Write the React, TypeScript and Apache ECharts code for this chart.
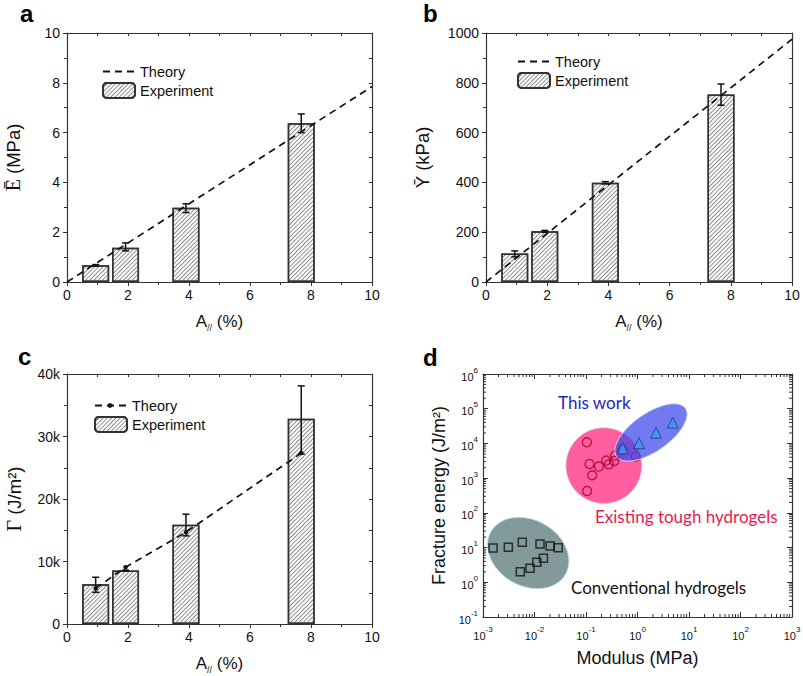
import React, { useEffect, useRef } from "react";
import * as echarts from "echarts";

const SANS = "'Liberation Sans', Arial, Helvetica, sans-serif";
const SERIF = "'Liberation Serif', 'Times New Roman', serif";
const HUMANIST = "Lato, 'Open Sans', sans-serif";
const INK = "#111";

// ---- shared x (A// %) ----
const areaPercent = [0.94, 1.92, 3.9, 7.68];
const xTickLabels = ["0", "2", "4", "6", "8", "10"];

// ---- panel a ----
const modE = [0.67, 1.38, 2.98, 6.38];
const modELow = [0.64, 1.25, 2.79, 6.0];
const modEHigh = [0.7, 1.57, 3.14, 6.75];
const theoryEX = [0, 10];
const theoryEY = [0, 7.85];
const aTickLabels = ["0", "2", "4", "6", "8", "10"];

// ---- panel b ----
const strY = [114, 204, 399, 753];
const strYLow = [101, 200, 394, 710];
const strYHigh = [125, 207, 403, 795];
const theoryYX = [0, 10];
const theoryYY = [0, 975];
const bTickLabels = ["0", "200", "400", "600", "800", "1000"];

// ---- panel c ----
const gamma = [6360, 8550, 15870, 32850];
const gammaLow = [5070, 8480, 14100, 27200];
const gammaHigh = [7480, 8620, 17570, 38100];
const theoryG = [5700, 9080, 14700, 27350];
const cTickLabels = ["0", "10k", "20k", "30k", "40k"];

// ---- panel d ----
const convMod = [0.00157, 0.0031, 0.0058, 0.0128, 0.0201, 0.0288, 0.0053, 0.0082, 0.0111, 0.0149];
const convEnergy = [9.7, 10.2, 14.2, 12.7, 11.1, 9.96, 2.02, 2.52, 3.76, 4.9];
const toughMod = [0.104, 0.105, 0.117, 0.132, 0.178, 0.247, 0.279, 0.354, 0.37, 0.516, 0.923];
const toughEnergy = [10800, 428, 2570, 1210, 2150, 3200, 2506, 3130, 4460, 6800, 4170];
const workMod = [0.516, 1.07, 2.29, 4.82];
const workEnergy = [7270, 10140, 20500, 39800];
const convCenter = [0.00755, 6.98];
const toughCenter = [0.222, 2290];
const workCenter = [1.83, 20700];
const dXExponents = [-3, -2, -1, 0, 1, 2, 3];
const dYExponents = [-1, 0, 1, 2, 3, 4, 5, 6];
const minorMultipliers = [2, 3, 4, 5, 6, 7, 8, 9];

const HATCH = {
  symbol: "rect",
  symbolSize: 1,
  symbolKeepAspect: false,
  color: "#8c8c8c",
  backgroundColor: "#ffffff",
  dashArrayX: [1, 0],
  dashArrayY: [0.9, 1.8],
  rotation: -Math.PI / 4,
};

const axisLine = { show: true, onZero: false, lineStyle: { color: "#333", width: 1.2 } };

function errorBars(params: any, api: any) {
  const x = api.value(0);
  const lo = api.coord([x, api.value(1)]);
  const hi = api.coord([x, api.value(2)]);
  const w = 3.5;
  const st = { stroke: INK, lineWidth: 1.5 };
  return {
    type: "group",
    children: [
      { type: "line", shape: { x1: lo[0], y1: lo[1], x2: hi[0], y2: hi[1] }, style: st },
      { type: "line", shape: { x1: lo[0] - w, y1: lo[1], x2: lo[0] + w, y2: lo[1] }, style: st },
      { type: "line", shape: { x1: hi[0] - w, y1: hi[1], x2: hi[0] + w, y2: hi[1] }, style: st },
    ],
  };
}

function ellipse(rx: number, ry: number, rotDeg: number, fill: string, stroke: string) {
  return (params: any, api: any) => {
    const c = api.coord([api.value(0), api.value(1)]);
    const r = (rotDeg * Math.PI) / 180;
    const pts: number[][] = [];
    for (let i = 0; i < 90; i++) {
      const t = (i / 90) * Math.PI * 2;
      const ex = rx * Math.cos(t);
      const ey = ry * Math.sin(t);
      pts.push([c[0] + ex * Math.cos(r) - ey * Math.sin(r), c[1] + ex * Math.sin(r) + ey * Math.cos(r)]);
    }
    return { type: "polygon", shape: { points: pts }, style: { fill, stroke, lineWidth: 1 } };
  };
}

function minorTicks(params: any, api: any) {
  const cs = params.coordSys;
  const kind = api.value(2);
  const p = api.coord([api.value(0), api.value(1)]);
  const len = 3;
  const st = { stroke: "#333", lineWidth: 1 };
  if (kind === 0) {
    return {
      type: "group",
      children: [
        { type: "line", shape: { x1: p[0], y1: cs.y + cs.height, x2: p[0], y2: cs.y + cs.height - len }, style: st },
        { type: "line", shape: { x1: p[0], y1: cs.y, x2: p[0], y2: cs.y + len }, style: st },
      ],
    };
  }
  return {
    type: "group",
    children: [
      { type: "line", shape: { x1: cs.x, y1: p[1], x2: cs.x + len, y2: p[1] }, style: st },
      { type: "line", shape: { x1: cs.x + cs.width, y1: p[1], x2: cs.x + cs.width - len, y2: p[1] }, style: st },
    ],
  };
}

const subRich = {
  sub: { fontSize: 9, fontFamily: SANS, color: INK, padding: [13, 0, 0, 0], verticalAlign: "top" },
  g: { fontSize: 20, fontFamily: SERIF, color: INK },
};

function linearAxes(
  grid: number,
  yMax: number,
  yInt: number,
  yLabels: string[],
  yName: string,
  yNameGap: number
) {
  const xs = [
    {
      type: "value",
      gridIndex: grid,
      min: 0,
      max: 10,
      interval: 2,
      axisLine,
      axisTick: { show: true, inside: false, length: 4, lineStyle: { color: "#333" } },
      minorTick: { show: true, splitNumber: 2, length: 3, lineStyle: { color: "#333" } },
      splitLine: { show: false },
      axisLabel: {
        fontSize: 14,
        fontFamily: SANS,
        color: INK,
        margin: 6,
        formatter: (v: number) => xTickLabels[Math.round(v / 2)],
      },
      name: "A{sub|//} (%)",
      nameLocation: "middle",
      nameGap: 28,
      nameTextStyle: { fontSize: 17, fontFamily: SANS, color: INK, rich: subRich },
    },
    {
      type: "value",
      gridIndex: grid,
      position: "top",
      min: 0,
      max: 10,
      interval: 1,
      axisLine,
      axisTick: { show: true, inside: true, length: 3, lineStyle: { color: "#333" } },
      axisLabel: { show: false },
      splitLine: { show: false },
    },
  ];
  const ys = [
    {
      type: "value",
      gridIndex: grid,
      min: 0,
      max: yMax,
      interval: yInt,
      axisLine,
      axisTick: { show: true, inside: false, length: 4, lineStyle: { color: "#333" } },
      minorTick: { show: true, splitNumber: 2, length: 3, lineStyle: { color: "#333" } },
      splitLine: { show: false },
      axisLabel: {
        fontSize: 14,
        fontFamily: SANS,
        color: INK,
        margin: 7,
        formatter: (v: number) => yLabels[Math.round(v / yInt)],
      },
      name: yName,
      nameLocation: "middle",
      nameRotate: 90,
      nameGap: yNameGap,
      nameTextStyle: { fontSize: 18.5, fontFamily: SANS, color: INK, rich: subRich },
    },
    {
      type: "value",
      gridIndex: grid,
      position: "right",
      min: 0,
      max: yMax,
      interval: yInt / 2,
      axisLine,
      axisTick: { show: true, inside: true, length: 3, lineStyle: { color: "#333" } },
      axisLabel: { show: false },
      splitLine: { show: false },
    },
  ];
  return { xs, ys };
}

function logAxes() {
  const rich = {
    n: { fontSize: 11, fontFamily: SANS, color: INK, padding: [5, 0, 0, 0] },
    s: { fontSize: 8, fontFamily: SANS, color: INK, verticalAlign: "top" },
  };
  const fmt = (exps: number[]) => (v: number) => {
    const e = Math.round(Math.log10(v));
    return exps.indexOf(e) >= 0 ? `{n|10}{s|${e}}` : "";
  };
  const common = {
    type: "log",
    logBase: 10,
    gridIndex: 3,
    axisLine,
    splitLine: { show: false },
  };
  const xs = [
    {
      ...common,
      min: 0.001,
      max: 1000,
      splitNumber: 6,
      axisTick: { show: true, inside: true, length: 5, lineStyle: { color: "#333" } },
      axisLabel: { fontFamily: SANS, color: INK, margin: 8, formatter: fmt(dXExponents), rich },
      name: "Modulus (MPa)",
      nameLocation: "middle",
      nameGap: 32,
      nameTextStyle: { fontSize: 18, fontFamily: SANS, color: INK },
    },
    {
      ...common,
      position: "top",
      min: 0.001,
      max: 1000,
      splitNumber: 6,
      axisTick: { show: true, inside: true, length: 5, lineStyle: { color: "#333" } },
      axisLabel: { show: false },
    },
  ];
  const ys = [
    {
      ...common,
      min: 0.1,
      max: 1000000,
      splitNumber: 7,
      axisTick: { show: true, inside: true, length: 5, lineStyle: { color: "#333" } },
      axisLabel: { fontFamily: SANS, color: INK, margin: 5, formatter: fmt(dYExponents), rich },
      name: "Fracture energy (J/m²)",
      nameLocation: "middle",
      nameRotate: 90,
      nameGap: 35,
      nameTextStyle: { fontSize: 18, fontFamily: SANS, color: INK },
    },
    {
      ...common,
      position: "right",
      min: 0.1,
      max: 1000000,
      splitNumber: 7,
      axisTick: { show: true, inside: true, length: 5, lineStyle: { color: "#333" } },
      axisLabel: { show: false },
    },
  ];
  return { xs, ys };
}

function legend(left: number, top: number, theoryName: string, expName: string) {
  return {
    left,
    top,
    orient: "vertical",
    itemWidth: 32,
    itemHeight: 15,
    itemGap: 3,
    padding: 0,
    selectedMode: false,
    data: [
      { name: theoryName, itemStyle: { color: "rgba(0,0,0,0)", borderWidth: 0, opacity: 0 } },
      expName,
    ],
    formatter: (n: string) => n.split(" ")[0],
    textStyle: { fontSize: 14.5, fontFamily: SANS, color: INK },
  };
}

function barPanel(
  idx: number,
  tag: string,
  values: number[],
  low: number[],
  high: number[],
  theoryData: number[][],
  theorySymbol: boolean
) {
  const ax = { xAxisIndex: idx * 2, yAxisIndex: idx * 2 };
  return [
    {
      type: "bar",
      name: "Experiment " + tag,
      ...ax,
      data: areaPercent.map((x, i) => [x, values[i]]),
      barWidth: 27,
      itemStyle: { color: "#ffffff", borderColor: "#333", borderWidth: 1.5, decal: HATCH },
      z: 2,
      silent: true,
    },
    {
      type: "custom",
      ...ax,
      data: areaPercent.map((x, i) => [x, low[i], high[i]]),
      renderItem: errorBars,
      z: 5,
      silent: true,
    },
    {
      type: "line",
      name: "Theory " + tag,
      ...ax,
      data: theoryData,
      symbol: theorySymbol ? "circle" : "none",
      showSymbol: theorySymbol,
      symbolSize: 4.5,
      itemStyle: { color: INK },
      lineStyle: { type: [7, 5], width: 1.7, color: INK },
      z: 4,
      silent: true,
    },
  ];
}

export default function App() {
  const ref = useRef<HTMLDivElement>(null);
  useEffect(() => {
    document.body.style.margin = "0";
    if (!ref.current) return;
    const chart = echarts.init(ref.current, undefined, { renderer: "svg" });
    const a = linearAxes(0, 10, 2, aTickLabels, "{g|Ē} (MPa)", 44);
    const b = linearAxes(1, 1000, 200, bTickLabels, "Ȳ (kPa)", 54);
    const c = linearAxes(2, 40000, 10000, cTickLabels, "{g|Γ} (J/m²)", 43);
    const d = logAxes();

    const minorData: number[][] = [];
    dXExponents.slice(0, -1).forEach((e) =>
      minorMultipliers.forEach((m) => minorData.push([m * Math.pow(10, e), 1, 0]))
    );
    dYExponents.slice(0, -1).forEach((e) =>
      minorMultipliers.forEach((m) => minorData.push([1, m * Math.pow(10, e), 1]))
    );

    const dAx = { xAxisIndex: 6, yAxisIndex: 6 };

    chart.setOption({
      animation: false,
      backgroundColor: "#ffffff",
      textStyle: { fontFamily: SANS },
      grid: [
        { left: 67, top: 33, width: 305, height: 249, outerBoundsMode: "none" },
        { left: 486, top: 33, width: 306, height: 249, outerBoundsMode: "none" },
        { left: 67, top: 374, width: 305, height: 250, outerBoundsMode: "none" },
        { left: 483, top: 374, width: 309, height: 243, outerBoundsMode: "none" },
      ],
      xAxis: [...a.xs, ...b.xs, ...c.xs, ...d.xs],
      yAxis: [...a.ys, ...b.ys, ...c.ys, ...d.ys],
      legend: [
        legend(102, 64, "Theory a", "Experiment a"),
        legend(517, 54, "Theory b", "Experiment b"),
        legend(94, 398, "Theory c", "Experiment c"),
      ],
      series: [
        ...barPanel(0, "a", modE, modELow, modEHigh, theoryEX.map((x, i) => [x, theoryEY[i]]), false),
        ...barPanel(1, "b", strY, strYLow, strYHigh, theoryYX.map((x, i) => [x, theoryYY[i]]), false),
        ...barPanel(2, "c", gamma, gammaLow, gammaHigh, areaPercent.map((x, i) => [x, theoryG[i]]), true),
        {
          type: "custom",
          ...dAx,
          data: [convCenter],
          renderItem: ellipse(43, 33, 30, "#839a9a", "rgba(200,230,235,0.9)"),
          z: 1,
          silent: true,
        },
        {
          type: "custom",
          ...dAx,
          data: [toughCenter],
          renderItem: ellipse(38, 38, 0, "#ff5fa0", "rgba(200,230,235,0.9)"),
          z: 1,
          silent: true,
        },
        {
          type: "scatter",
          ...dAx,
          data: convMod.map((x, i) => [x, convEnergy[i]]),
          symbol: "rect",
          symbolSize: 8,
          itemStyle: { color: "rgba(0,0,0,0)", borderColor: INK, borderWidth: 1.5 },
          z: 3,
          silent: true,
        },
        {
          type: "scatter",
          ...dAx,
          data: toughMod.map((x, i) => [x, toughEnergy[i]]),
          symbol: "circle",
          symbolSize: 9,
          itemStyle: { color: "rgba(0,0,0,0)", borderColor: "#a8002e", borderWidth: 1.4 },
          z: 3,
          silent: true,
        },
        {
          type: "custom",
          ...dAx,
          data: [workCenter],
          renderItem: ellipse(42, 19, -35, "rgba(60,70,235,0.72)", "rgba(200,230,240,0.9)"),
          z: 5,
          silent: true,
        },
        {
          type: "scatter",
          ...dAx,
          data: workMod.map((x, i) => [x, workEnergy[i]]),
          symbol: "triangle",
          symbolSize: 11,
          itemStyle: { color: "#3b9be8", borderColor: "#1d3a8a", borderWidth: 1 },
          z: 6,
          silent: true,
        },
        {
          type: "custom",
          ...dAx,
          data: minorData,
          renderItem: minorTicks,
          z: 7,
          silent: true,
        },
      ],
      graphic: [
        { type: "circle", shape: { cx: 110, cy: 405.5, r: 2.4 }, style: { fill: INK }, z: 100 },
        { type: "text", x: 20, y: 25, style: { text: "a", fontSize: 24, fontWeight: "bold", fontFamily: SANS, fill: "#000", verticalAlign: "bottom" } },
        { type: "text", x: 423, y: 25, style: { text: "b", fontSize: 24, fontWeight: "bold", fontFamily: SANS, fill: "#000", verticalAlign: "bottom" } },
        { type: "text", x: 18, y: 368, style: { text: "c", fontSize: 24, fontWeight: "bold", fontFamily: SANS, fill: "#000", verticalAlign: "bottom" } },
        { type: "text", x: 423, y: 369, style: { text: "d", fontSize: 24, fontWeight: "bold", fontFamily: SANS, fill: "#000", verticalAlign: "bottom" } },
        { type: "text", x: 558, y: 402, style: { text: "This work", fontSize: 17, fontFamily: HUMANIST, fill: "#2424c4", verticalAlign: "middle" } },
        { type: "text", x: 595, y: 516, style: { text: "Existing tough hydrogels", fontSize: 17, fontFamily: HUMANIST, fill: "#e8194f", verticalAlign: "middle" } },
        { type: "text", x: 571, y: 587, style: { text: "Conventional hydrogels", fontSize: 17, fontFamily: HUMANIST, fill: INK, verticalAlign: "middle" } },
      ],
    });
    return () => chart.dispose();
  }, []);
  return <div ref={ref} style={{ width: 803, height: 676 }} />;
}
